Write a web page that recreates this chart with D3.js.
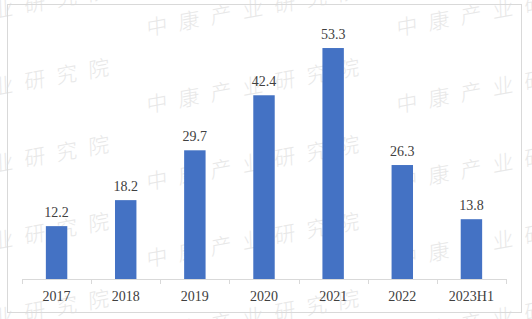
<!DOCTYPE html>
<html>
<head>
<meta charset="utf-8">
<script src="https://cdn.jsdelivr.net/npm/d3@7"></script>
<style>
  body { margin: 0; background: #fff; }
  svg { display: block; }
</style>
</head>
<body>
<svg id="chart" width="532" height="319"></svg>
<script>
// datos del gráfico
const categories = ['2017', '2018', '2019', '2020', '2021', '2022', '2023H1'];
const values = [12.2, 18.2, 29.7, 42.4, 53.3, 26.3, 13.8];
const watermarkText = '中康产业研究院';

const svg = d3.select('#chart');

// marca de agua repetida
const wm = svg.append('g');
for (let col = 0; col < 3; col++) {
    for (let row = -1; row < 5; row++) {
        const x = -103 + col * 250;
        const y = 36 + row * 77;
        wm.append('text')
            .attr('transform', `translate(${x},${y}) rotate(-10.3) skewX(-8)`)
            .attr('font-family', '"Noto Sans CJK SC", sans-serif')
            .attr('font-size', '21px')
            .attr('font-weight', 200)
            .attr('letter-spacing', '11.5px')
            .attr('fill', '#e8e8e8')
            .text(watermarkText);
    }
}

// borde exterior
svg.append('rect')
    .attr('x', 7.5).attr('y', 4.5)
    .attr('width', 514).attr('height', 308)
    .attr('fill', 'none')
    .attr('stroke', '#d9d9d9')
    .attr('stroke-width', 1);

// escalas
const x = d3.scaleBand()
    .domain(categories)
    .range([22, 506])
    .paddingInner(0.69)
    .paddingOuter(0.345);

const y = d3.scaleLinear()
    .domain([0, 60])
    .range([279, 19]);

// barras
svg.selectAll('.bar')
    .data(values)
    .enter()
    .append('rect')
    .attr('class', 'bar')
    .attr('x', (d, i) => x(categories[i]))
    .attr('y', d => y(d))
    .attr('width', x.bandwidth())
    .attr('height', d => y(0) - y(d))
    .attr('fill', '#4472c4');

// etiquetas de valores
svg.selectAll('.label')
    .data(values)
    .enter()
    .append('text')
    .attr('class', 'label')
    .attr('x', (d, i) => x(categories[i]) + x.bandwidth() / 2)
    .attr('y', d => y(d) - 9)
    .attr('text-anchor', 'middle')
    .attr('font-family', '"Liberation Serif", "Times New Roman", serif')
    .attr('font-size', '14px')
    .attr('fill', '#404040')
    .text(d => d.toFixed(1));

// eje X
const step = (506 - 22) / categories.length;
const axisG = svg.append('g');
axisG.append('line')
    .attr('x1', 22).attr('x2', 506)
    .attr('y1', 279.5).attr('y2', 279.5)
    .attr('stroke', '#d9d9d9');
d3.range(categories.length + 1).forEach(i => {
    const tx = Math.round(22 + i * step) + 0.5;
    axisG.append('line')
        .attr('x1', tx).attr('x2', tx)
        .attr('y1', 279).attr('y2', 284)
        .attr('stroke', '#d9d9d9');
});
axisG.selectAll('.tick-label')
    .data(categories)
    .enter()
    .append('text')
    .attr('class', 'tick-label')
    .attr('x', d => x(d) + x.bandwidth() / 2)
    .attr('y', 301)
    .attr('text-anchor', 'middle')
    .attr('font-family', '"Liberation Serif", "Times New Roman", serif')
    .attr('font-size', '14px')
    .attr('fill', '#404040')
    .text(d => d);
</script>
</body>
</html>
